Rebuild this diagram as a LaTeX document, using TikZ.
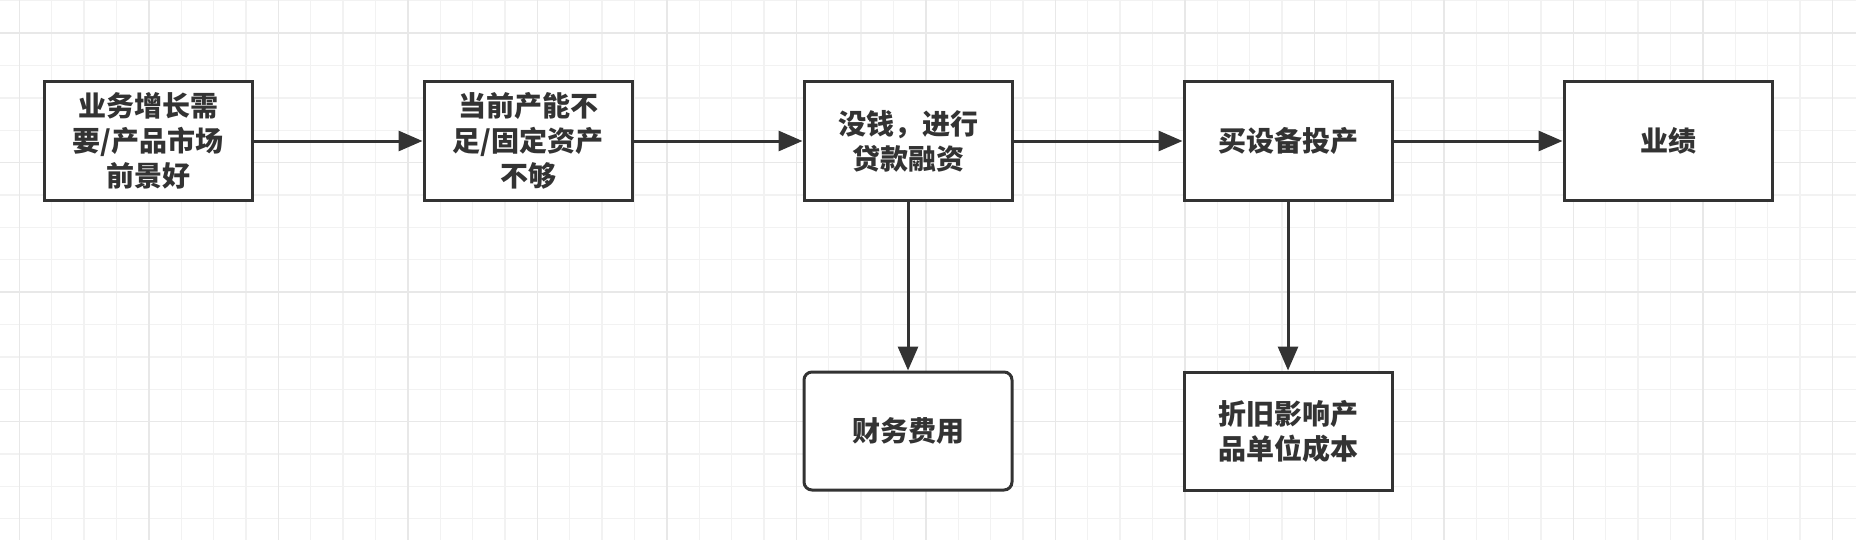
\documentclass[tikz,border=0pt]{standalone}
\usepackage{fontspec}
\newfontfamily\cjk{Noto Sans CJK SC}
\usepackage{xcolor}
\usetikzlibrary{positioning}
\usetikzlibrary{arrows.meta}
\definecolor{inkgray}{HTML}{333333}
\definecolor{gridminor}{HTML}{F2F2F2}
\definecolor{gridmajor}{HTML}{E8E8E8}

\begin{document}
\begin{tikzpicture}[x=0.5pt, y=-0.5pt, node distance=84.5pt,
    box/.style={draw=inkgray, line width=1.5pt, fill=white,
        minimum width=104pt, minimum height=59pt, align=center,
        text=inkgray, font=\cjk\bfseries\fontsize{14}{17.5}\selectfont},
    flow/.style={draw=inkgray, line width=1.5pt,
        -{Triangle[length=12pt,width=10pt]}}]
    \useasboundingbox (0,0) rectangle (1856,540);
    \fill[white] (0,0) rectangle (1856,540);

    % grid
    \foreach \i in {0,...,57}
        \draw[gridminor, line width=0.6pt] ({19.3+32.375*\i},0) -- ++(0,540);
    \foreach \j in {0,...,16}
        \draw[gridminor, line width=0.6pt] (0,{0.8+32.375*\j}) -- ++(1856,0);
    \foreach \i in {0,4,...,56}
        \draw[gridmajor, line width=0.7pt] ({19.3+32.375*\i},0) -- ++(0,540);
    \foreach \j in {1,5,9,13}
        \draw[gridmajor, line width=0.7pt] (0,{0.8+32.375*\j}) -- ++(1856,0);

    \node[box] (growth) at (148,141) {业务增长需\\要/产品市场\\前景好};
    \node[box, right=of growth] (capacity) {当前产能不\\足/固定资产\\不够};
    \node[box, right=of capacity] (loan) {没钱，进行\\贷款融资};
    \node[box, right=of loan] (equip) {买设备投产};
    \node[box, right=of equip] (result) {业绩};
    \node[box, rounded corners=4pt, below=of loan] (fincost) {财务费用};
    \node[box, below=of equip] (deprec) {折旧影响产\\品单位成本};

    \draw[flow] (growth) -- (capacity);
    \draw[flow] (capacity) -- (loan);
    \draw[flow] (loan) -- (equip);
    \draw[flow] (equip) -- (result);
    \draw[flow] (loan) -- (fincost);
    \draw[flow] (equip) -- (deprec);
\end{tikzpicture}
\end{document}
